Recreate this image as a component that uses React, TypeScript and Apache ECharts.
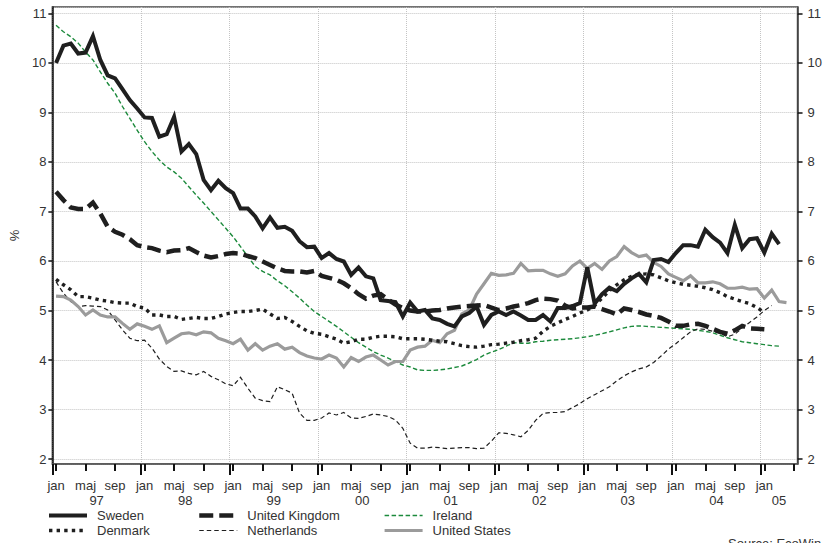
import React, { useEffect, useRef } from "react";
import * as echarts from "echarts";

const FONT = "'Liberation Sans', Arial, Helvetica, sans-serif";

const monthNames = ["jan", "feb", "mar", "apr", "maj", "jun", "jul", "aug", "sep", "okt", "nov", "dec"];
const years = ["97", "98", "99", "00", "01", "02", "03", "04", "05"];
const monthCount = 101; // Jan 1997 .. May 2005

const sweden = [
  10.0, 10.35, 10.39, 10.19, 10.21, 10.54, 10.06, 9.75, 9.69, 9.47, 9.25, 9.08,
  8.9, 8.89, 8.51, 8.56, 8.91, 8.21, 8.36, 8.16, 7.64, 7.43, 7.62, 7.47,
  7.37, 7.06, 7.06, 6.9, 6.66, 6.88, 6.67, 6.69, 6.61, 6.4, 6.28, 6.29,
  6.06, 6.16, 6.04, 5.99, 5.72, 5.87, 5.69, 5.65, 5.21, 5.19, 5.17, 4.88,
  5.16, 4.98, 5.01, 4.84, 4.81, 4.73, 4.68, 4.88, 4.95, 5.08, 4.71, 4.91,
  4.98, 4.91, 4.98, 4.9, 4.81, 4.81, 4.91, 4.78, 5.05, 5.05, 5.09, 5.15,
  5.87, 5.14, 5.33, 5.46, 5.39, 5.54, 5.65, 5.74, 5.57, 6.02, 6.04, 5.98,
  6.16, 6.32, 6.32, 6.29, 6.63, 6.48, 6.37, 6.16, 6.73, 6.26, 6.44, 6.46,
  6.17, 6.55, 6.34,
];

const unitedKingdom = [
  7.4, 7.23, 7.08, 7.05, 7.05, 7.18, 6.96, 6.69, 6.59, 6.53, 6.44, 6.32,
  6.28, 6.26, 6.21, 6.18, 6.21, 6.22, 6.26, 6.18, 6.11, 6.07, 6.1, 6.14,
  6.16, 6.15, 6.1, 6.06, 5.99, 5.92, 5.85, 5.8, 5.79, 5.79, 5.77, 5.8,
  5.7, 5.66, 5.62, 5.55, 5.45, 5.33, 5.24, 5.3, 5.33, 5.22, 5.12, 5.05,
  5.0, 4.98, 4.98, 5.0, 5.01, 5.04, 5.06, 5.08, 5.09, 5.1, 5.11, 5.06,
  5.01, 5.04, 5.08, 5.11, 5.15, 5.21, 5.24, 5.23, 5.2, 5.1, 5.04, 5.06,
  5.06, 5.08, 5.03, 4.98, 4.92, 5.04, 5.01, 4.97, 4.92, 4.89, 4.85, 4.78,
  4.69, 4.69, 4.72, 4.73, 4.69, 4.63, 4.57, 4.53, 4.6, 4.69, 4.64, 4.63,
  4.62,
];

const ireland = [
  10.76, 10.63, 10.53, 10.4, 10.22, 10.06, 9.82, 9.59, 9.39, 9.12, 8.88, 8.64,
  8.41, 8.21, 8.04, 7.9, 7.8, 7.67, 7.5, 7.33, 7.17, 7.0, 6.83, 6.66,
  6.49, 6.29, 6.09, 5.89, 5.79, 5.72, 5.6, 5.5, 5.38, 5.25, 5.11, 4.98,
  4.88, 4.78, 4.68, 4.57, 4.46, 4.35, 4.26, 4.17, 4.1, 4.04, 3.97, 3.9,
  3.86, 3.8, 3.79, 3.79, 3.8, 3.82, 3.85, 3.88, 3.94, 4.01, 4.1, 4.16,
  4.21, 4.28, 4.35, 4.34, 4.34, 4.37, 4.38, 4.4, 4.41, 4.42, 4.43, 4.45,
  4.47, 4.5, 4.53, 4.57, 4.61, 4.65, 4.68, 4.69, 4.68, 4.67, 4.66, 4.65,
  4.64, 4.63, 4.62, 4.6, 4.58, 4.55, 4.5, 4.45, 4.41, 4.37, 4.35, 4.33,
  4.31, 4.29, 4.28,
];

const denmark = [
  5.63, 5.52, 5.42, 5.28, 5.28, 5.25, 5.21, 5.19, 5.16, 5.15, 5.15, 5.08,
  5.05, 4.91, 4.91, 4.88, 4.88, 4.82, 4.84, 4.86, 4.84, 4.84, 4.88, 4.93,
  4.96, 4.98, 4.98, 5.0, 5.03, 4.93, 4.84, 4.86, 4.78, 4.68, 4.59, 4.54,
  4.52, 4.47, 4.42, 4.34, 4.37, 4.42, 4.42, 4.46, 4.48, 4.48, 4.47, 4.43,
  4.43, 4.43, 4.42, 4.4, 4.38, 4.37, 4.33, 4.29, 4.27, 4.26, 4.28, 4.31,
  4.32, 4.34, 4.36, 4.39, 4.41, 4.44, 4.58, 4.68, 4.75, 4.82, 4.88, 4.95,
  5.01, 5.1, 5.25, 5.4, 5.52, 5.62, 5.69, 5.73, 5.74, 5.72, 5.66, 5.6,
  5.56, 5.53, 5.51, 5.49, 5.46, 5.42, 5.36, 5.28, 5.23, 5.18, 5.14, 5.06,
  4.96,
];

const netherlands = [
  5.58, 5.35, 5.18, 5.08, 5.1, 5.09, 5.08, 5.01, 4.81, 4.61, 4.44, 4.39,
  4.4, 4.24, 4.02, 3.87, 3.77, 3.78, 3.73, 3.7, 3.77, 3.67, 3.6, 3.52,
  3.48, 3.65, 3.43, 3.23, 3.18, 3.16, 3.46, 3.4, 3.33, 2.93, 2.78, 2.78,
  2.83, 2.93, 2.89, 2.94, 2.83, 2.82, 2.86, 2.91, 2.89, 2.86, 2.79, 2.62,
  2.32, 2.22, 2.22, 2.24, 2.23, 2.21, 2.22, 2.23, 2.23, 2.21, 2.22, 2.36,
  2.53, 2.52, 2.49, 2.45, 2.58, 2.78, 2.92, 2.94, 2.94, 2.96, 3.04, 3.12,
  3.22, 3.3, 3.38, 3.46, 3.58, 3.68, 3.76, 3.82, 3.86, 3.95, 4.08, 4.22,
  4.33, 4.45, 4.57, 4.63, 4.62, 4.58, 4.54, 4.47, 4.52, 4.65, 4.76, 4.87,
  5.0, 5.1,
];

const unitedStates = [
  5.29, 5.28, 5.21, 5.08, 4.91, 5.01, 4.91, 4.87, 4.87, 4.74, 4.62, 4.73,
  4.68, 4.62, 4.69, 4.35, 4.44, 4.53, 4.55, 4.51, 4.57, 4.55, 4.44, 4.39,
  4.33, 4.42, 4.2, 4.33, 4.2, 4.28, 4.33, 4.22, 4.26, 4.15, 4.08, 4.04,
  4.02, 4.1, 4.04, 3.86, 4.05, 3.97, 4.06, 4.1, 4.0, 3.9, 3.97, 3.97,
  4.2, 4.26, 4.28, 4.4, 4.35, 4.53, 4.6, 4.93, 5.01, 5.33, 5.54, 5.75,
  5.71, 5.72, 5.75, 5.95, 5.8, 5.81, 5.81, 5.74, 5.69, 5.74, 5.9, 6.0,
  5.85, 5.95, 5.83, 6.0, 6.09, 6.29, 6.17, 6.09, 6.12, 5.97, 5.89, 5.74,
  5.67, 5.6, 5.7, 5.56, 5.56, 5.58, 5.54, 5.45, 5.45, 5.47, 5.43, 5.44,
  5.25, 5.41, 5.18, 5.16,
];

const months: string[] = [];
for (let i = 0; i < monthCount; i++) months.push(monthNames[i % 12]);

const pad = (arr: number[]) => {
  const out: (number | null)[] = arr.slice();
  while (out.length < monthCount) out.push(null);
  return out;
};

const yearStarts = years.map((_, k) => k * 12);
const yearMids = years.map((_, k) => Math.min(k * 12 + 6, (k * 12 + monthCount) / 2));

const DARK = "#1f1f1f";
const GRID = "#c4c4c4";
const FS = 13;

export default function App() {
  const ref = useRef<HTMLDivElement>(null);

  useEffect(() => {
    if (!ref.current) return;
    const chart = echarts.init(ref.current, undefined, { renderer: "svg" });

    const mkSeries = (name: string, data: number[], lineStyle: any) => ({
      name,
      type: "line",
      data: pad(data),
      symbol: "none",
      showSymbol: false,
      connectNulls: false,
      silent: true,
      xAxisIndex: 0,
      yAxisIndex: 0,
      lineStyle: { cap: "butt", join: "miter", ...lineStyle },
      itemStyle: { color: lineStyle.color },
      emphasis: { disabled: true },
    });

    const legendBase = {
      orient: "vertical",
      itemWidth: 38,
      itemHeight: 10,
      itemGap: 2,
      padding: 0,
      selectedMode: false,
      itemStyle: { opacity: 0 },
      lineStyle: { width: "inherit", type: "inherit", color: "inherit" },
      textStyle: { fontSize: FS, color: "#333", fontFamily: FONT, padding: [0, 0, 0, 5] },
    };

    const option: any = {
      animation: false,
      backgroundColor: "#ffffff",
      textStyle: { fontFamily: FONT },
      grid: {
        left: 41,
        right: 19,
        top: 7,
        bottom: 79,
        show: true,
        borderColor: "#444",
        borderWidth: 1.5,
        containLabel: false,
      },
      legend: [
        { ...legendBase, left: 47, top: 509, data: ["Sweden", "Denmark"] },
        { ...legendBase, left: 197, top: 509, data: ["United Kingdom", "Netherlands"] },
        { ...legendBase, left: 383, top: 509, data: ["Ireland", "United States"] },
      ],
      xAxis: [
        {
          type: "category",
          data: months,
          boundaryGap: true,
          position: "bottom",
          axisLine: { show: true, lineStyle: { color: "#555", width: 1.5 } },
          axisTick: {
            show: true,
            alignWithLabel: true,
            interval: (index: number) => index % 4 === 0,
            length: 7,
            lineStyle: { color: "#111", width: 2 },
          },
          axisLabel: {
            interval: (index: number) => index % 4 === 0 && index < monthCount - 1,
            margin: 15,
            fontSize: FS,
            color: "#333",
            fontFamily: FONT,
          },
          splitLine: { show: false },
        },
        {
          type: "value",
          min: 0,
          max: monthCount,
          interval: 12,
          position: "bottom",
          axisLine: { show: false },
          axisTick: {
            show: true,
            customValues: yearStarts,
            length: 11,
            lineStyle: { color: "#111", width: 2 },
          },
          axisLabel: {
            show: true,
            customValues: yearMids,
            margin: 30,
            fontSize: FS,
            color: "#333",
            fontFamily: FONT,
            formatter: (v: number) => years[Math.floor(v / 12)] ?? "",
          },
          splitLine: { show: true, lineStyle: { type: "dotted", color: GRID, width: 1 } },
        },
      ],
      yAxis: [
        {
          type: "value",
          min: 1.9,
          max: 11.13,
          splitNumber: 9,
          minInterval: 1,
          maxInterval: 1,
          position: "left",
          name: "%",
          nameLocation: "middle",
          nameGap: 27,
          nameTextStyle: { fontSize: FS, color: "#333", fontFamily: FONT },
          axisLine: { show: true, lineStyle: { color: "#111", width: 1.5 } },
          axisTick: { show: true, length: 4, lineStyle: { color: "#111", width: 1.5 } },
          axisLabel: {
            showMinLabel: false,
            showMaxLabel: false,
            margin: 6,
            fontSize: FS,
            color: "#333",
            fontFamily: FONT,
          },
          splitLine: { show: true, lineStyle: { type: "dotted", color: GRID, width: 1 } },
        },
        {
          type: "value",
          min: 1.9,
          max: 11.13,
          splitNumber: 9,
          minInterval: 1,
          maxInterval: 1,
          position: "right",
          axisLine: { show: true, lineStyle: { color: "#444", width: 1.5 } },
          axisTick: { show: true, length: 5, lineStyle: { color: "#111", width: 1.5 } },
          axisLabel: {
            showMinLabel: false,
            showMaxLabel: false,
            margin: 10,
            fontSize: FS,
            color: "#333",
            fontFamily: FONT,
          },
          splitLine: { show: false },
        },
      ],
      graphic: [
        {
          type: "text",
          left: 728,
          top: 537,
          style: { text: "Source: EcoWin", fontSize: FS, fill: "#333", fontFamily: FONT },
        },
      ],
      series: [
        mkSeries("Ireland", ireland, { color: "#1c8a3c", width: 1.4, type: [4.5, 2.5] }),
        mkSeries("Netherlands", netherlands, { color: DARK, width: 1.2, type: [4.5, 3] }),
        mkSeries("United States", unitedStates, { color: "#9b9b9b", width: 3.2 }),
        mkSeries("Denmark", denmark, { color: DARK, width: 3.4, type: [3.4, 4.2] }),
        mkSeries("United Kingdom", unitedKingdom, { color: DARK, width: 4.5, type: [14, 6] }),
        mkSeries("Sweden", sweden, { color: DARK, width: 4 }),
      ],
    };

    chart.setOption(option);
    return () => chart.dispose();
  }, []);

  return (
    <div
      ref={ref}
      style={{ position: "absolute", left: 0, top: 0, width: 825, height: 543 }}
    />
  );
}
